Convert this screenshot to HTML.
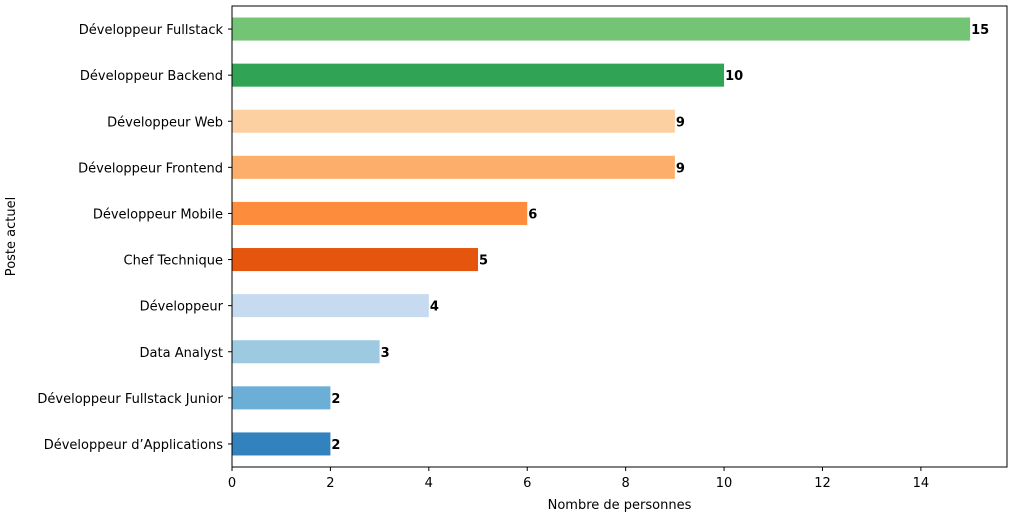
<!DOCTYPE html>
<html><head><meta charset="utf-8"><style>
body{margin:0;background:#fff;font-family:"DejaVu Sans","Liberation Sans",sans-serif;}
svg text{font-family:"DejaVu Sans","Liberation Sans",sans-serif;}
</style></head><body>
<svg id="chart" width="1016" height="512"></svg>
<script>
const categories=["Développeur Fullstack","Développeur Backend","Développeur Web","Développeur Frontend","Développeur Mobile","Chef Technique","Développeur","Data Analyst","Développeur Fullstack Junior","Développeur d’Applications"];
const values=[15,10,9,9,6,5,4,3,2,2];
const colors=["#74c476","#31a354","#fdd0a2","#fdae6b","#fd8d3c","#e6550d","#c6dbef","#9ecae1","#6baed6","#3182bd"];
const xTicks=[0,2,4,6,8,10,12,14];
const NS="http://www.w3.org/2000/svg";
const svg=document.getElementById('chart');
const L=232,R=1007,T=6,B=467,xMax=15.75;
const x=v=>L+v/xMax*(R-L);
const step=(B-T)/categories.length;
const y=i=>T+step*(i+0.5);
function mk(t,a,txt){const e=document.createElementNS(NS,t);for(const k in a)e.setAttribute(k,a[k]);if(txt!==undefined)e.textContent=txt;svg.appendChild(e);return e;}
categories.forEach((c,i)=>{
 const r=mk('rect',{x:L,y:y(i)-step*0.25,width:x(values[i])-L,height:step*0.5,fill:colors[i]});
 
 
 const v=mk('text',{x:x(values[i])+1,y:y(i)+5,'font-size':13,'font-weight':'bold'},values[i]);
 
 
 mk('line',{x1:L-4,x2:L,y1:y(i),y2:y(i),stroke:'#000'});
 const t=mk('text',{x:L-9,y:y(i)+5,'font-size':13,'text-anchor':'end'},c);
 
 
});
xTicks.forEach(v=>{
 mk('line',{x1:x(v),x2:x(v),y1:B,y2:B+4,stroke:'#000'});
 const t=mk('text',{x:x(v),y:B+20,'font-size':13,'text-anchor':'middle'},v);
 
 
});
const f=mk('rect',{x:L,y:T,width:R-L,height:B-T,fill:'none',stroke:'#000','stroke-width':1});


const xt=mk('text',{x:(L+R)/2,y:509,'font-size':13,'text-anchor':'middle'},'Nombre de personnes');


const yt=mk('text',{x:15,y:(T+B)/2,'font-size':13,'text-anchor':'middle',transform:`rotate(-90 15 ${(T+B)/2})`},'Poste actuel');


</script>
</body></html>
